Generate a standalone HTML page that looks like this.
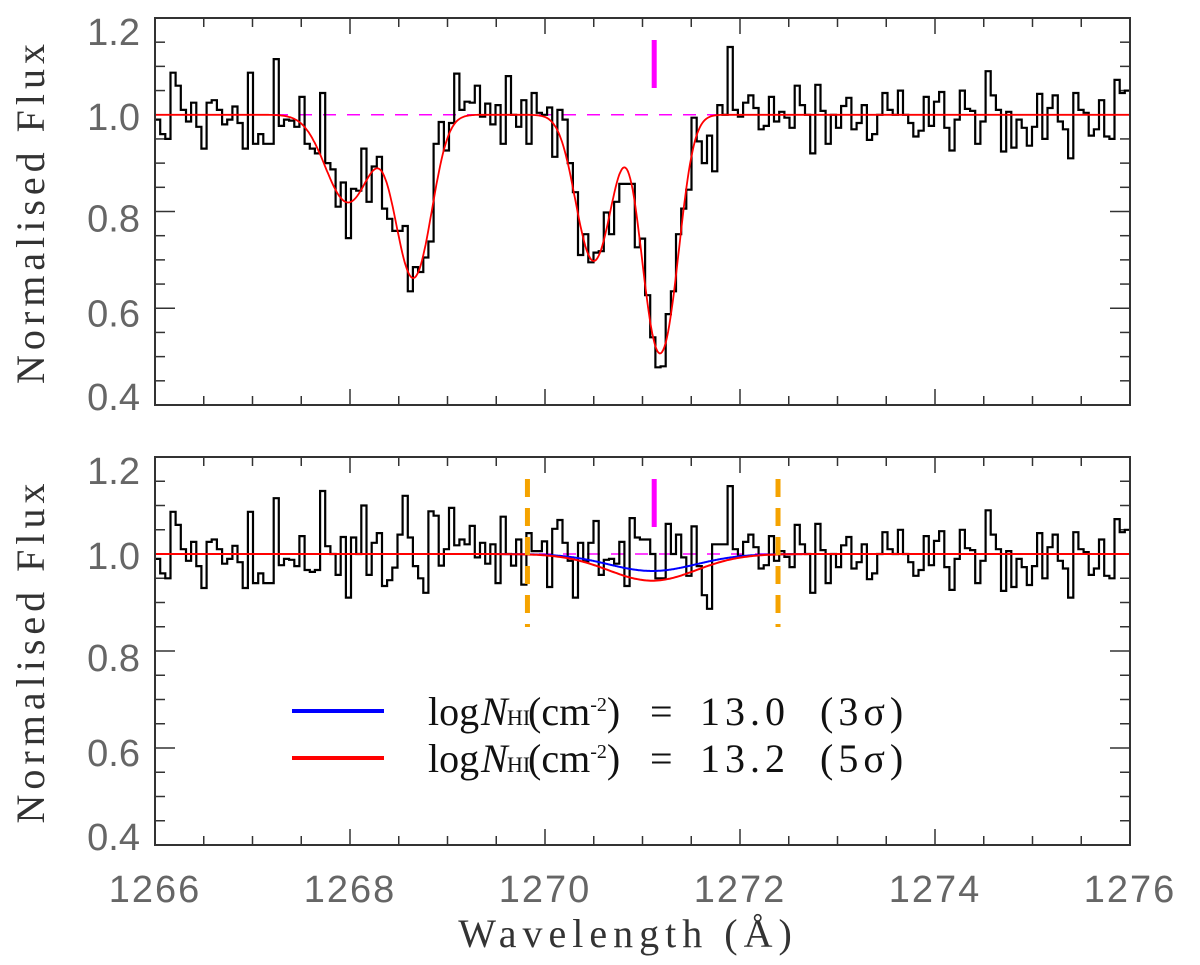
<!DOCTYPE html>
<html><head><meta charset="utf-8"><style>
html,body{margin:0;padding:0;background:#fff;}
svg{display:block;}
.tl{font-family:"Liberation Sans",sans-serif;font-size:38px;fill:#666;}
.ti{font-family:"Liberation Serif",serif;font-size:40px;fill:#333;}
.lg{font-family:"Liberation Serif",serif;font-size:40px;fill:#111;}
</style></head><body>
<svg id="chart" width="1200" height="965" viewBox="0 0 1200 965">
<g id="top"></g>
<g id="bot"></g>
<text class="ti" x="628" y="947" text-anchor="middle" letter-spacing="6">Wavelength (Å)</text>
<g>
<line x1="292" y1="711" x2="384" y2="711" stroke="#00f" stroke-width="4"/>
<line x1="292" y1="758" x2="384" y2="758" stroke="#f00" stroke-width="4"/>
<g class="lg">
<text x="428" y="725">log</text><text x="481" y="725" font-style="italic">N</text><text x="507" y="725" font-size="22">HI</text>
<text x="528" y="725">(cm<tspan font-size="20" dy="-14">-2</tspan><tspan dy="14">)</tspan></text>
<text x="650" y="725">=</text><text x="700" y="725" letter-spacing="5">13.0</text><text x="820" y="725" letter-spacing="5">(3σ)</text>
</g>
<g class="lg">
<text x="428" y="772">log</text><text x="481" y="772" font-style="italic">N</text><text x="507" y="772" font-size="22">HI</text>
<text x="528" y="772">(cm<tspan font-size="20" dy="-14">-2</tspan><tspan dy="14">)</tspan></text>
<text x="650" y="772">=</text><text x="700" y="772" letter-spacing="5">13.2</text><text x="820" y="772" letter-spacing="5">(5σ)</text>
</g>
</g>
</svg>
<script>
const xTicks=[1266,1268,1270,1272,1274,1276];
const yTicks=[0.4,0.6,0.8,1.0,1.2];
const yTickLabels=["0.4","0.6","0.8","1.0","1.2"];
const lamStart=1266, lamEnd=1276;
const topFlux=[0.99,0.96,0.95,1.087,1.06,1.01,0.986,1.025,0.975,0.93,1.025,1.03,1.01,0.98,0.99,1.017,0.983,0.93,1.087,0.94,0.96,0.94,0.94,1.115,0.977,0.99,0.988,0.975,1.037,0.94,0.93,0.92,1.045,0.90,0.887,0.81,0.86,0.745,0.847,0.843,0.93,0.82,0.893,0.913,0.806,0.785,0.76,0.76,0.77,0.635,0.685,0.675,0.705,0.738,0.94,0.985,0.926,0.983,1.085,1.01,1.027,1.025,1.06,0.996,1.023,0.98,1.02,0.94,1.08,1.0,0.975,1.03,0.94,1.045,1.004,1.0,1.015,0.913,1.01,0.99,0.90,0.84,0.71,0.753,0.695,0.715,0.718,0.798,0.753,0.82,0.857,0.857,0.857,0.726,0.744,0.627,
0.54,0.478,0.48,0.588,0.635,0.753,0.806,0.845,0.994,0.945,0.90,0.957,0.883,1.02,1.0,1.14,1.01,0.996,1.025,1.04,1.014,0.97,0.977,1.037,0.986,1.006,0.994,0.973,1.06,1.02,1.0,0.92,1.062,1.008,0.94,1.0,0.973,1.018,1.035,0.97,0.983,1.02,0.948,0.96,1.0,1.045,1.01,1.0,1.05,1.0,0.983,0.955,0.967,1.037,0.977,1.027,1.047,0.973,0.926,0.99,1.05,1.012,1.008,0.94,0.986,1.09,1.04,1.01,0.924,1.006,0.932,0.99,0.973,0.936,0.975,1.043,0.95,1.014,1.04,0.986,0.97,0.91,1.045,1.01,1.004,0.957,0.97,1.03,0.955,0.95,1.072,1.045,1.05];
const botMid=[0.967,0.963,0.967,1.13,1.016,1.0,0.957,1.035,0.91,1.034,1.0,1.1,0.957,1.023,1.043,0.934,0.946,0.972,1.04,1.12,1.034,0.975,0.95,0.92,1.088,1.079,0.976,1.01,1.095,1.018,1.03,1.02,1.058,0.993,1.023,0.98,1.02,0.94,1.077,1.0,0.976,1.03,0.937,1.043,1.006,1.006,1.026,0.932,1.052,1.07,1.023,0.986,0.91,1.023,0.985,1.023,1.068,0.957,0.988,0.99,0.98,1.025,0.934,1.074,1.034,1.03,
1.03,1.0,0.95,0.95,1.062,1.0,1.04,0.993,0.955,1.057,0.975,0.915,0.887,1.02,1.02,1.02];
const botFlux=topFlux.slice(0,29).concat(botMid).concat(topFlux.slice(111));
const compCentre=[1267.98,1268.65,1270.5,1271.18];
const compTau=[0.2,0.41,0.36,0.68];
const compSigma=[0.22,0.17,0.17,0.16];
const limCentre=1271.1, limSigma=0.45;
const limBlueMin=0.965, limRedMin=0.945;
const markerLam=1271.12;
const orangeLams=[1269.82,1272.39];

const NS='http://www.w3.org/2000/svg';
const X0=155,X1=1130;
const labelNudge=[-8,5,7,2,14];
const xs=l=>X0+(l-lamStart)/(lamEnd-lamStart)*(X1-X0);
function mk(tag,attrs,parent){const e=document.createElementNS(NS,tag);for(const k in attrs)e.setAttribute(k,attrs[k]);parent.appendChild(e);return e;}

function panel(g,Y0,Y1,flux,isTop){
  const ys=f=>Y1-(f-0.4)/0.8*(Y1-Y0);
  for(let v=0.4;v<=1.2001;v+=0.05){
    const maj=Math.abs((v*10)%2)<0.01||Math.abs((v*10)%2-2)<0.01;
    const L=maj?20:10, y=ys(v);
    const t1=mk('line',{x1:X0,y1:y,x2:X0+L,y2:y,stroke:'#333','stroke-width':1.5},g);
    
    
    const t2=mk('line',{x1:X1,y1:y,x2:X1-L,y2:y,stroke:'#333','stroke-width':1.5},g);
    
    
  }
  for(let l=lamStart;l<=lamEnd+0.001;l+=0.5){
    const maj=Math.abs(l%2)<0.01;const L=maj?16:9;const x=xs(l);
    const t=mk('line',{x1:x,y1:Y1,x2:x,y2:Y1-L,stroke:'#333','stroke-width':1.5},g);
    
    
    const t2=mk('line',{x1:x,y1:Y0,x2:x,y2:Y0+L,stroke:'#333','stroke-width':1.5},g);
    
    
  }
  yTicks.forEach((v,i)=>{
    const t=mk('text',{x:140,y:ys(v)+13+labelNudge[i],'text-anchor':'end',class:'tl'},g);
    t.textContent=yTickLabels[i];
    
    
  });
  const yt=mk('text',{class:'ti','text-anchor':'middle','letter-spacing':'5',transform:`translate(44,${(Y0+Y1)/2}) rotate(-90)`},g);
  yt.textContent='Normalised Flux';
  
  
  const dl=mk('line',{x1:X0,y1:ys(1),x2:X1,y2:ys(1),stroke:'#f0f','stroke-width':1.5,'stroke-dasharray':'13,11'},g);
  
  
  const n=flux.length,bw=(lamEnd-lamStart)/n;let d='';
  flux.forEach((f,i)=>{const xa=xs(lamStart+i*bw),xb=xs(lamStart+(i+1)*bw),y=ys(f);d+=(i?'L':'M')+xa.toFixed(1)+','+y.toFixed(1)+'L'+xb.toFixed(1)+','+y.toFixed(1);});
  const h=mk('path',{d:d,fill:'none',stroke:'#000','stroke-width':2.2},g);
  
  
  if(isTop){
    let pd='';
    for(let k=0;k<=800;k++){const l=lamStart+k*(lamEnd-lamStart)/800;let tau=0;
      for(let c=0;c<compCentre.length;c++)tau+=compTau[c]*Math.exp(-Math.pow(l-compCentre[c],2)/(2*compSigma[c]*compSigma[c]));
      pd+=(k?'L':'M')+xs(l).toFixed(1)+','+ys(Math.exp(-tau)).toFixed(1);}
    const m=mk('path',{d:pd,fill:'none',stroke:'#f00','stroke-width':1.8},g);
    
    
  } else {
    const model=(mn,a,b,name,col)=>{let pd='';
      for(let k=0;k<=600;k++){const l=a+k*(b-a)/600;const f=1-(1-mn)*Math.exp(-Math.pow(l-limCentre,2)/(2*limSigma*limSigma));
        pd+=(k?'L':'M')+xs(l).toFixed(1)+','+ys(f).toFixed(1);}
      const m=mk('path',{d:pd,fill:'none',stroke:col,'stroke-width':2},g);
      
      };
    model(limBlueMin,1269.5,1272.72,'model-3sigma','#00f');
    model(limRedMin,lamStart,lamEnd,'model-5sigma','#f00');
    orangeLams.forEach(l=>{const o=mk('line',{x1:xs(l),y1:Y0+22,x2:xs(l),y2:Y0+170,stroke:'#f5a300','stroke-width':5,'stroke-dasharray':'18,11'},g);
      
      });
  }
  const mkr=mk('line',{x1:xs(markerLam),y1:Y0+22,x2:xs(markerLam),y2:Y0+70,stroke:'#f0f','stroke-width':5},g);
  
  
  const fr=mk('rect',{x:X0,y:Y0,width:X1-X0,height:Y1-Y0,fill:'none',stroke:'#333','stroke-width':2},g);
  
  
}
panel(document.getElementById('top'),18,405,topFlux,true);
panel(document.getElementById('bot'),457,845,botFlux,false);
const xl=document.getElementById('chart');
xTicks.forEach(v=>{const t=mk('text',{x:xs(v),y:902,'text-anchor':'middle',class:'tl','letter-spacing':'2'},xl);
  t.textContent=String(v);
  
  });
</script>
</body></html>
